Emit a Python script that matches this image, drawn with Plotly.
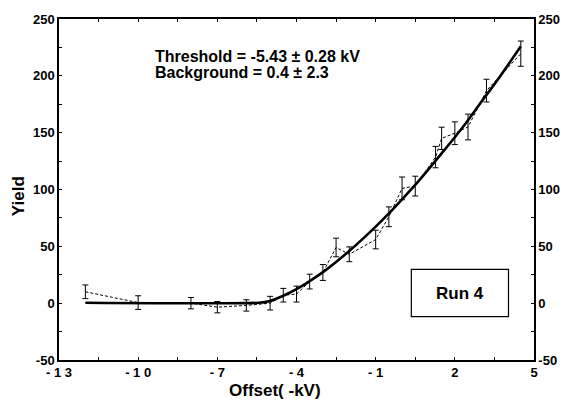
import plotly.graph_objects as go

# Measured data (offset in kV, yield, error)
offset = [-12, -10, -8, -7, -5.9, -5, -4.5, -4, -3.5, -3, -2.5, -2, -1, -0.5, 0, 0.5,
          1.27, 1.5, 2, 2.5, 3.2, 4.5]
yield_vals = [10, 0.5, 0, -3.5, -2, 0, 7, 8, 19, 27, 49, 43, 56, 76, 101, 103,
              128.5, 145, 149.5, 155, 187, 219.5]
yield_err = [6, 6, 5, 5, 5, 6, 6, 7, 6.5, 7, 8.2, 6.5, 8.2, 8.7, 10, 8.7,
             9.4, 9.8, 10, 11.3, 10, 11.1]

# Fitted curve
fit_x = [-12, -5.43, -5, -4.5, -4, -3.5, -3, -2.5, -2, -1.5, -1, -0.5, 0, 0.5, 1,
         1.5, 2, 2.5, 3, 3.5, 4, 4.5]
fit_y = [0.4, 0.4, 2.0, 6.5, 12.3, 19.4, 27.3, 36.3, 45.9, 56.3, 67.3, 79, 91.4,
         104, 117.7, 131.8, 146, 161, 177, 192.6, 209, 226]

x_tickvals = [-13, -11.5, -10, -8.5, -7, -5.5, -4, -2.5, -1, 0.5, 2, 3.5, 5]
x_ticktext = ["- 1 3", "", "- 1 0", "", "- 7", "", "- 4", "", "- 1", "", "2", "", "5"]
y_tickvals = [-50, -25, 0, 25, 50, 75, 100, 125, 150, 175, 200, 225, 250]
y_ticktext = ["-50", "", "0", "", "50", "", "100", "", "150", "", "200", "", "250"]

FONT = "Liberation Sans"

fig = go.Figure()
fig.add_trace(go.Scatter(
    x=offset, y=yield_vals, mode="lines",
    line=dict(color="black", width=1, dash="3px,2px"),
    error_y=dict(type="data", array=yield_err, color="black", thickness=1, width=3),
    showlegend=False, hoverinfo="skip"))
fig.add_trace(go.Scatter(
    x=fit_x, y=fit_y, mode="lines",
    line=dict(color="black", width=2.6, shape="spline", smoothing=0.6),
    showlegend=False))
fig.add_trace(go.Scatter(x=[-13], y=[-50], yaxis="y2", mode="markers",
                         marker=dict(opacity=0), showlegend=False, hoverinfo="skip"))

axis_font = dict(family=FONT, size=13, color="black", weight="bold")


def px_x(p):
    return (p - 59) / 484


def px_y(p):
    return 1 - (p - 14) / 346


fig.update_layout(
    width=572, height=400,
    margin=dict(l=59, r=29, t=14, b=40),
    paper_bgcolor="white", plot_bgcolor="white",
    xaxis=dict(range=[-13, 5], tickvals=x_tickvals, ticktext=x_ticktext,
               ticks="inside", ticklen=3, tickcolor="black", showgrid=False,
               zeroline=False, showline=True, linecolor="black", linewidth=1.5,
               mirror="ticks", tickfont=axis_font),
    yaxis=dict(range=[-50, 250], tickvals=y_tickvals, ticktext=y_ticktext,
               ticks="inside", ticklen=3, tickcolor="black", showgrid=False,
               zeroline=False, showline=True, linecolor="black", linewidth=1.5,
               tickfont=axis_font),
    yaxis2=dict(range=[-50, 250], tickvals=y_tickvals, ticktext=y_ticktext,
                overlaying="y", side="right", ticks="inside", ticklen=3,
                tickcolor="black", showgrid=False, zeroline=False, showline=True,
                linecolor="black", linewidth=1.5, tickfont=axis_font),
    annotations=[
        dict(text="Threshold = -5.43 ± 0.28 kV", xref="paper", yref="paper",
             x=px_x(155), y=px_y(52), xanchor="left", yanchor="middle",
             showarrow=False, font=dict(family=FONT, size=16, color="black", weight="bold")),
        dict(text="Background = 0.4 ± 2.3", xref="paper", yref="paper",
             x=px_x(155), y=px_y(68), xanchor="left", yanchor="middle",
             showarrow=False, font=dict(family=FONT, size=16, color="black", weight="bold")),
        dict(text="Run 4", xref="paper", yref="paper",
             x=px_x(468), y=px_y(293), xanchor="center", yanchor="middle",
             showarrow=False, font=dict(family=FONT, size=17, color="black", weight="bold")),
        dict(text="Yield", xref="paper", yref="paper", textangle=-90,
             x=px_x(18), y=px_y(194), xanchor="center", yanchor="middle",
             showarrow=False, font=dict(family=FONT, size=17, color="black", weight="bold")),
        dict(text="Offset( -kV)", xref="paper", yref="paper",
             x=px_x(279), y=px_y(391), xanchor="center", yanchor="middle",
             showarrow=False, font=dict(family=FONT, size=17, color="black", weight="bold")),
    ],
    shapes=[
        dict(type="rect", xref="paper", yref="paper",
             x0=px_x(418), x1=px_x(517), y0=px_y(316), y1=px_y(268),
             line=dict(color="black", width=1.2), fillcolor="rgba(0,0,0,0)"),
    ],
)

fig.write_html("out.html")
